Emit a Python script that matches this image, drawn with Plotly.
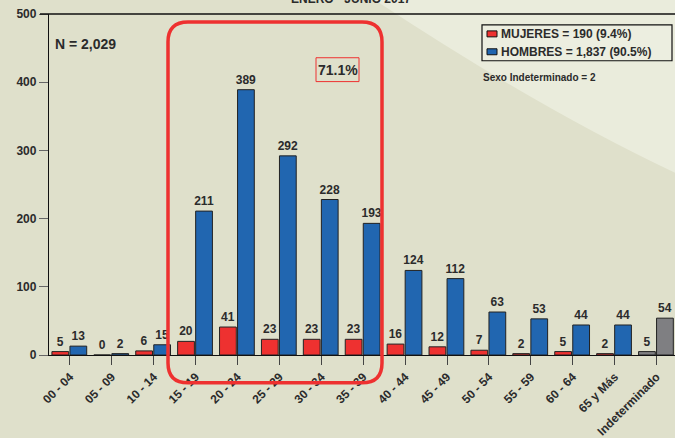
import plotly.graph_objects as go

categorias = ["00 - 04", "05 - 09", "10 - 14", "15 - 19", "20 - 24", "25 - 29", "30 - 34",
              "35 - 39", "40 - 44", "45 - 49", "50 - 54", "55 - 59", "60 - 64",
              "65 y Más", "Indeterminado"]
mujeres = [5, 0, 6, 20, 41, 23, 23, 23, 16, 12, 7, 2, 5, 2, 5]
hombres = [13, 2, 15, 211, 389, 292, 228, 193, 124, 112, 63, 53, 44, 44, 54]
y_ticks = [0, 100, 200, 300, 400, 500]

FONT = "Arial, 'Liberation Sans', sans-serif"
TXT = "#2b2b2b"
BEIGE = "#dfe0cb"
LIGHT = "#eaecdc"
RED = "#ee3130"
BLUE = "#2166b0"
GREY = "#7f7f82"

W, H = 675, 438
L, R, T, B = 49, 0, 14, 81


def px(x):
    return (x - L) / (W - L - R)


def py(y):
    return (H - B - y) / (H - T - B)


xs = list(range(len(categorias)))
col_m = [RED] * (len(xs) - 1) + [GREY]
col_h = [BLUE] * (len(xs) - 1) + [GREY]

fig = go.Figure()
fig.add_trace(go.Bar(
    x=xs, y=mujeres, name="MUJERES", offset=-0.43, width=0.40,
    marker=dict(color=col_m, line=dict(color="#222222", width=1)),
    text=[str(v) for v in mujeres], textposition="outside", cliponaxis=False,
    constraintext="none",
    textfont=dict(family=FONT, size=12, color=TXT, weight="bold"),
))
fig.add_trace(go.Bar(
    x=xs, y=hombres, name="HOMBRES", offset=0.0, width=0.40,
    marker=dict(color=col_h, line=dict(color="#222222", width=1)),
    text=[str(v) for v in hombres], textposition="outside", cliponaxis=False,
    constraintext="none",
    textfont=dict(family=FONT, size=12, color=TXT, weight="bold"),
))

shapes = [
    # lighter diagonal background area
    dict(type="path", xref="paper", yref="paper", layer="below",
         path=f"M {px(372)},{py(-2)} L {px(680)},{py(-2)} L {px(680)},{py(176)} "
              f"Q {px(540)},{py(110)} {px(372)},{py(-2)} Z",
         fillcolor=LIGHT, line=dict(width=0)),
    # top frame line
    dict(type="line", xref="paper", yref="paper",
         x0=px(40), x1=px(680), y0=1, y1=1,
         line=dict(color="#111111", width=1.3)),
    # rounded red highlight frame
    dict(type="path", xref="paper", yref="paper",
         path=(f"M {px(168)},{py(42)} Q {px(168)},{py(22)} {px(188)},{py(22)} "
               f"L {px(362)},{py(22)} Q {px(382)},{py(22)} {px(382)},{py(42)} "
               f"L {px(382)},{py(365)} Q {px(382)},{py(385)} {px(362)},{py(385)} "
               f"L {px(188)},{py(385)} Q {px(168)},{py(385)} {px(168)},{py(365)} Z"),
         line=dict(color=RED, width=3.5)),
    # 71.1% box
    dict(type="rect", xref="paper", yref="paper",
         x0=px(316), x1=px(359), y0=py(58), y1=py(82),
         line=dict(color=RED, width=1), fillcolor="rgba(0,0,0,0)"),
    # legend box
    dict(type="rect", xref="paper", yref="paper",
         x0=px(482), x1=px(672), y0=py(25), y1=py(61),
         line=dict(color="#111111", width=1.2), fillcolor="#eceee0"),
    dict(type="rect", xref="paper", yref="paper",
         x0=px(487), x1=px(497), y0=py(31), y1=py(37),
         line=dict(color="#111111", width=1), fillcolor=RED),
    dict(type="rect", xref="paper", yref="paper",
         x0=px(487), x1=px(497), y0=py(49), y1=py(55),
         line=dict(color="#111111", width=1), fillcolor=BLUE),
]

annotations = [
    dict(text="ENERO - JUNIO 2017", x=px(351), y=py(-1), xref="paper", yref="paper",
         showarrow=False, xanchor="center", yanchor="middle",
         font=dict(family=FONT, size=12, color=TXT, weight="bold")),
    dict(text="N = 2,029", x=px(53), y=py(44), xref="paper", yref="paper",
         showarrow=False, xanchor="left", yanchor="middle",
         font=dict(family=FONT, size=14, color=TXT, weight="bold")),
    dict(text="71.1%", x=px(337.5), y=py(70), xref="paper", yref="paper",
         showarrow=False, xanchor="center", yanchor="middle",
         font=dict(family=FONT, size=14, color=TXT, weight="bold")),
    dict(text="MUJERES = 190 (9.4%)", x=px(499), y=py(34), xref="paper", yref="paper",
         showarrow=False, xanchor="left", yanchor="middle",
         font=dict(family=FONT, size=12, color=TXT, weight="bold")),
    dict(text="HOMBRES = 1,837 (90.5%)", x=px(499), y=py(52), xref="paper", yref="paper",
         showarrow=False, xanchor="left", yanchor="middle",
         font=dict(family=FONT, size=12, color=TXT, weight="bold")),
    dict(text="Sexo Indeterminado = 2", x=px(481), y=py(78), xref="paper", yref="paper",
         showarrow=False, xanchor="left", yanchor="middle",
         font=dict(family=FONT, size=10, color=TXT, weight="bold")),
]

fig.update_layout(
    width=W, height=H,
    margin=dict(l=L, r=R, t=T, b=B),
    paper_bgcolor=BEIGE, plot_bgcolor="rgba(0,0,0,0)",
    barmode="overlay", showlegend=False,
    shapes=shapes, annotations=annotations,
    xaxis=dict(
        range=[-0.5, 14.44], tickmode="array", tickvals=xs, ticktext=categorias,
        tickangle=-45, ticks="outside", ticklen=9, tickcolor="#444444", tickwidth=1,
        showline=True, linecolor="#111111", linewidth=1.3,
        showgrid=False, zeroline=False,
        tickfont=dict(family=FONT, size=12, color=TXT, weight="bold"),
    ),
    yaxis=dict(
        range=[0, 500], tickvals=y_ticks, ticks="outside", ticklen=9,
        tickcolor="#666666", tickwidth=1.3,
        showline=True, linecolor="#111111", linewidth=1.3,
        showgrid=False, zeroline=False,
        tickfont=dict(family=FONT, size=12, color=TXT, weight="bold"),
    ),
)

fig.write_html("out.html", config={"displayModeBar": False},
               post_script="document.body.style.margin='0';")
